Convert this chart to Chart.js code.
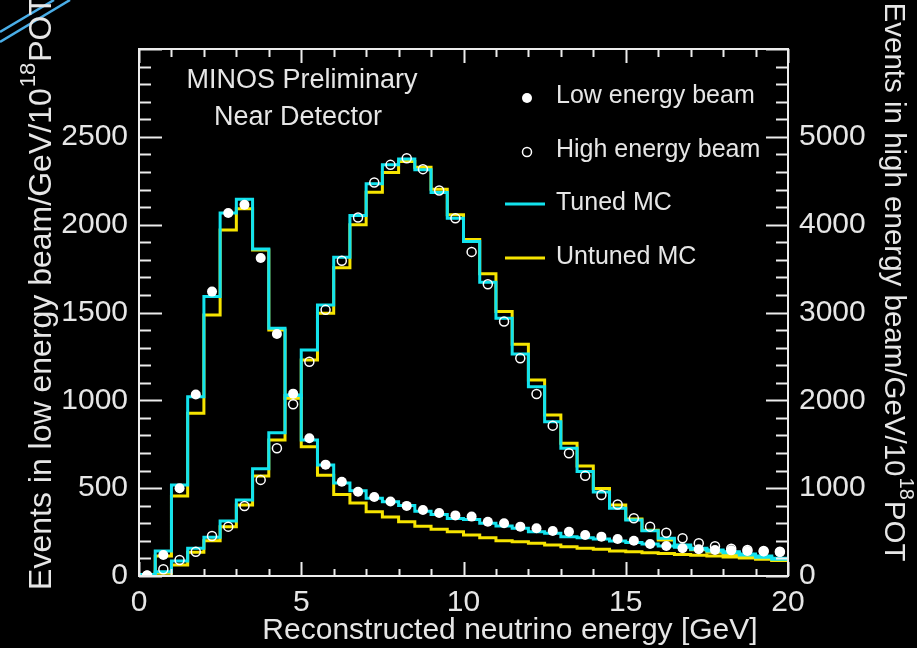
<!DOCTYPE html>
<html>
<head>
<meta charset="utf-8">
<script src="https://cdn.jsdelivr.net/npm/chart.js@4.4.0/dist/chart.umd.min.js"></script>
<style>
  html, body { margin: 0; padding: 0; background: #000; }
  canvas { display: block; }
</style>
</head>
<body>
<canvas id="spectrum" width="917" height="648"></canvas>
<script>
// Reconstructed energy binning (GeV)
const energyMin = 0;
const energyMax = 20;
const binWidth = 0.5;

// Low energy beam, events / GeV / 1e18 POT (left axis)
const leData = [3, 120, 500, 1033, 1619, 2066, 2113, 1810, 1378, 1038, 784, 634, 537, 480, 450, 424, 399, 376, 359, 345,
  338, 309, 300, 281, 272, 256, 252, 233, 224, 211, 201, 182, 171, 158, 152, 148, 146, 142, 139, 137];
const leTuned = [8, 142, 518, 1021, 1591, 2066, 2145, 1862, 1410, 1030, 774, 632, 530, 486, 442, 423, 402, 369, 350, 328,
  321, 300, 285, 272, 252, 243, 224, 218, 211, 199, 190, 182, 171, 163, 152, 142, 133, 125, 114, 101];
const leUntuned = [5, 114, 456, 926, 1486, 1970, 2090, 1856, 1400, 1012, 736, 573, 464, 416, 366, 336, 309, 283, 266, 252,
  233, 218, 201, 195, 186, 177, 167, 158, 152, 142, 138, 133, 128, 123, 118, 114, 108, 102, 95, 88];

// High energy beam, events / GeV / 1e18 POT (right axis)
const heData = [5, 76, 182, 277, 456, 562, 797, 1094, 1454, 1956, 2440, 3030, 3590, 4082, 4480, 4681, 4757, 4632, 4389, 4074,
  3690, 3322, 2897, 2480, 2073, 1712, 1398, 1140, 923, 815, 657, 562, 493, 429, 372, 340, 311, 296, 285, 277];
const heTuned = [8, 49, 171, 316, 441, 626, 866, 1222, 1632, 2054, 2574, 3086, 3630, 4104, 4465, 4681, 4749, 4624, 4366, 4074,
  3808, 3345, 2935, 2528, 2156, 1757, 1454, 1190, 955, 770, 638, 516, 429, 353, 315, 296, 277, 239, 213, 190];
const heUntuned = [4, 30, 125, 270, 402, 562, 809, 1139, 1549, 2030, 2460, 2992, 3510, 3998, 4370, 4593, 4719, 4654, 4404, 4112,
  3830, 3440, 3010, 2639, 2232, 1834, 1511, 1253, 995, 809, 650, 520, 410, 345, 300, 270, 245, 220, 200, 180];

// Axis labels
const energyTicks = [0, 5, 10, 15, 20];
const leTicks = [0, 500, 1000, 1500, 2000, 2500];
const heTicks = [0, 1000, 2000, 3000, 4000, 5000];
const leAxisMax = 3000;
const heAxisMax = 6000;

const FONT = '"Liberation Sans", Arial, Helvetica, sans-serif';
const TEXT = '#e6e6e6';
const FRAME = '#ececec';
const CYAN = '#12e3ee';
const YELLOW = '#f6e400';

// histogram contents -> points on the bin edges; each bin's value is held
// from its low edge to its high edge
function histPoints(vals) {
  const pts = vals.map((v, i) => ({ x: energyMin + i * binWidth, y: v }));
  pts.push({ x: energyMin + vals.length * binWidth, y: vals[vals.length - 1] });
  return pts;
}
// measured points sit at the bin centres
function centrePoints(vals) {
  return vals.map((v, i) => ({ x: energyMin + (i + 0.5) * binWidth, y: v }));
}

function histDataset(label, vals, axis, color, order) {
  return {
    type: 'line', label, data: histPoints(vals), yAxisID: axis,
    stepped: 'before', borderColor: color, borderWidth: 3, pointRadius: 0,
    fill: false, tension: 0, order
  };
}

// black slide background with the blue corner streaks
const backdrop = {
  id: 'backdrop',
  beforeDraw(chart) {
    const { ctx, width, height } = chart;
    ctx.save();
    ctx.fillStyle = '#000';
    ctx.fillRect(0, 0, width, height);
    ctx.strokeStyle = '#4aaee8';
    ctx.lineWidth = 2.5;
    [[0, 32, 54, 0], [0, 42, 70, 0]].forEach(([x1, y1, x2, y2]) => {
      ctx.beginPath(); ctx.moveTo(x1, y1); ctx.lineTo(x2, y2); ctx.stroke();
    });
    ctx.restore();
  }
};

// closed frame with inward ticks on all four sides
const frame = {
  id: 'frame',
  afterDatasetsDraw(chart) {
    const { ctx, chartArea: { left, right, top, bottom }, scales: { x, y } } = chart;
    ctx.save();
    ctx.strokeStyle = FRAME;
    ctx.lineWidth = 2;
    ctx.beginPath();
    for (let e = energyMin; e <= energyMax; e += 1) {
      const px = Math.round(x.getPixelForValue(e)) + 0.5;
      const major = e % 5 === 0;
      ctx.moveTo(px, bottom); ctx.lineTo(px, bottom - (major ? 14 : 7));
      ctx.moveTo(px, top); ctx.lineTo(px, top + (major ? 14 : 8));
    }
    for (let v = 0; v <= leAxisMax; v += 100) {
      const py = Math.round(y.getPixelForValue(v)) + 0.5;
      const major = v % 500 === 0;
      ctx.moveTo(left, py); ctx.lineTo(left + (major ? 23 : 12), py);
      ctx.moveTo(right, py); ctx.lineTo(right - (major ? 22 : 12), py);
    }
    ctx.stroke();
    ctx.strokeRect(left, top, right - left, bottom - top);
    ctx.restore();
  }
};

// title with a raised "18" exponent, rotated about its centre
function drawPowerTitle(ctx, pre, exp, post, cx, cy, angle, size) {
  ctx.save();
  ctx.translate(cx, cy);
  ctx.rotate(angle);
  ctx.fillStyle = TEXT;
  ctx.textBaseline = 'middle';
  ctx.textAlign = 'left';
  const main = `${size}px ${FONT}`;
  const small = `${Math.round(size * 0.68)}px ${FONT}`;
  ctx.font = main; const w1 = ctx.measureText(pre).width; const w3 = ctx.measureText(post).width;
  ctx.font = small; const w2 = ctx.measureText(exp).width;
  let xPos = -(w1 + w2 + w3) / 2;
  ctx.font = main; ctx.fillText(pre, xPos, 0); xPos += w1;
  ctx.font = small; ctx.fillText(exp, xPos + 1, -size * 0.42); xPos += w2 + 2;
  ctx.font = main; ctx.fillText(post, xPos, 0);
  ctx.restore();
}

const annotations = {
  id: 'annotations',
  afterDraw(chart) {
    const { ctx } = chart;
    ctx.save();
    ctx.fillStyle = TEXT;
    ctx.textBaseline = 'middle';

    ctx.font = `27px ${FONT}`;
    ctx.textAlign = 'center';
    ctx.fillText('MINOS Preliminary', 302, 81);
    ctx.fillText('Near Detector', 298, 118);

    // legend
    ctx.font = `25px ${FONT}`;
    ctx.textAlign = 'left';
    ctx.fillText('Low energy beam', 556, 96);
    ctx.fillText('High energy beam', 556, 150);
    ctx.fillText('Tuned MC', 556, 203);
    ctx.fillText('Untuned MC', 556, 257);

    ctx.fillStyle = '#fff';
    ctx.beginPath(); ctx.arc(527, 98, 5, 0, Math.PI * 2); ctx.fill();
    ctx.strokeStyle = '#fff'; ctx.lineWidth = 1.5;
    ctx.beginPath(); ctx.arc(527, 152, 4.5, 0, Math.PI * 2); ctx.stroke();
    ctx.lineWidth = 3;
    ctx.strokeStyle = CYAN;
    ctx.beginPath(); ctx.moveTo(505, 204); ctx.lineTo(545, 204); ctx.stroke();
    ctx.strokeStyle = YELLOW;
    ctx.beginPath(); ctx.moveTo(505, 258); ctx.lineTo(545, 258); ctx.stroke();

    // axis titles
    ctx.fillStyle = TEXT;
    ctx.font = `30px ${FONT}`;
    ctx.textAlign = 'center';
    ctx.fillText('Reconstructed neutrino energy [GeV]', 510, 631);
    ctx.restore();

    drawPowerTitle(ctx, 'Events in low energy beam/GeV/10', '18', 'POT', 42, 294, -Math.PI / 2, 32);
    drawPowerTitle(ctx, 'Events in high energy beam/GeV/10', '18', 'POT', 893, 281, Math.PI / 2, 29.5);
  }
};

const tickFont = { family: FONT, size: 30 };

new Chart(document.getElementById('spectrum'), {
  type: 'line',
  data: {
    datasets: [
      {
        type: 'scatter', label: 'Low energy beam', data: centrePoints(leData), yAxisID: 'y',
        pointRadius: 5, pointBackgroundColor: '#fff', pointBorderWidth: 0, showLine: false, order: 0
      },
      {
        type: 'scatter', label: 'High energy beam', data: centrePoints(heData), yAxisID: 'y2',
        pointRadius: 4.5, pointBackgroundColor: 'rgba(0,0,0,0)', pointBorderColor: '#fff',
        pointBorderWidth: 1.5, showLine: false, order: 1
      },
      histDataset('Tuned MC', leTuned, 'y', CYAN, 2),
      histDataset('Tuned MC', heTuned, 'y2', CYAN, 3),
      histDataset('Untuned MC', leUntuned, 'y', YELLOW, 4),
      histDataset('Untuned MC', heUntuned, 'y2', YELLOW, 5)
    ]
  },
  options: {
    responsive: false,
    animation: false,
    devicePixelRatio: 1,
    layout: { padding: { top: 49, left: 0, right: 0, bottom: 0 } },
    plugins: { legend: { display: false }, tooltip: { enabled: false } },
    scales: {
      x: {
        type: 'linear', position: 'bottom', min: energyMin, max: energyMax,
        afterFit(s) { s.height = 72; },
        afterBuildTicks(s) { s.ticks = energyTicks.map(v => ({ value: v })); },
        ticks: { color: TEXT, font: tickFont, padding: 9, maxRotation: 0, autoSkip: false, callback: v => String(v) },
        grid: { display: false, drawTicks: false },
        border: { display: false }
      },
      y: {
        type: 'linear', position: 'left', min: 0, max: leAxisMax,
        afterFit(s) { s.width = 139; },
        afterBuildTicks(s) { s.ticks = leTicks.map(v => ({ value: v })); },
        ticks: { color: TEXT, font: tickFont, padding: 11, autoSkip: false, callback: v => String(v) },
        grid: { display: false, drawTicks: false },
        border: { display: false }
      },
      y2: {
        type: 'linear', position: 'right', min: 0, max: heAxisMax,
        afterFit(s) { s.width = 129; },
        afterBuildTicks(s) { s.ticks = heTicks.map(v => ({ value: v })); },
        ticks: { color: TEXT, font: tickFont, padding: 11, autoSkip: false, callback: v => String(v) },
        grid: { display: false, drawTicks: false },
        border: { display: false }
      }
    }
  },
  plugins: [backdrop, frame, annotations]
});
</script>
</body>
</html>
